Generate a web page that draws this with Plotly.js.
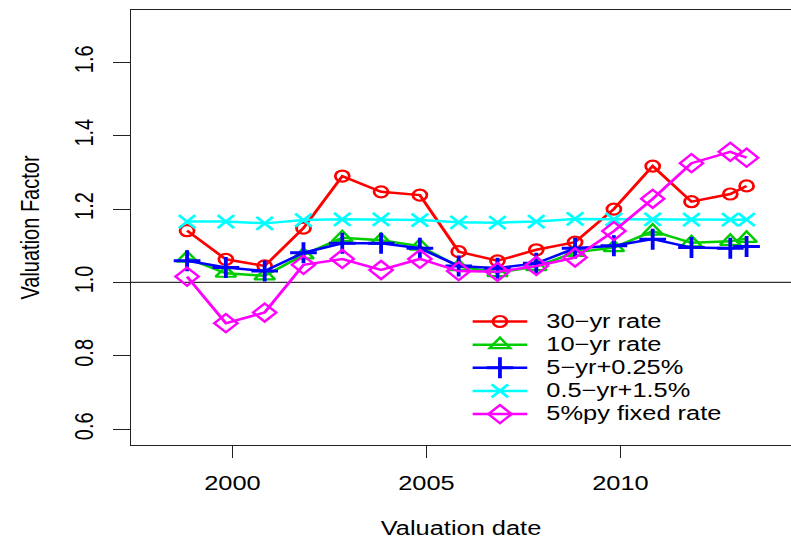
<!DOCTYPE html>
<html>
<head>
<meta charset="utf-8">
<script src="https://cdn.plot.ly/plotly-3.0.1.min.js"></script>
<style>
  html, body { margin: 0; padding: 0; background: #fff; overflow: hidden; }
  #wrap { width: 791px; height: 539px; overflow: hidden; }
  #chart { width: 623px; height: 539px; transform: scaleX(1.27); transform-origin: 0 0; }
</style>
</head>
<body>
<div id="wrap"><div id="chart"></div></div>
<script>
// Valuation dates (decimal years)
const valuationDates = [1998.83, 1999.83, 2000.83, 2001.83, 2002.83, 2003.83, 2004.83, 2005.83,
                        2006.83, 2007.83, 2008.83, 2009.83, 2010.83, 2011.83, 2012.83, 2013.25];

// Valuation factors per discounting basis
const rate30yr   = [1.141, 1.063, 1.045, 1.148, 1.290, 1.247, 1.238, 1.084, 1.059, 1.089, 1.110, 1.200, 1.317, 1.220, 1.241, 1.263];
const rate10yr   = [1.066, 1.025, 1.018, 1.075, 1.122, 1.115, 1.099, 1.043, 1.027, 1.043, 1.082, 1.095, 1.140, 1.108, 1.112, 1.120];
const rate5yr    = [1.059, 1.041, 1.031, 1.081, 1.107, 1.107, 1.093, 1.045, 1.039, 1.052, 1.093, 1.100, 1.118, 1.095, 1.093, 1.098];
const rateHalfYr = [1.166, 1.166, 1.161, 1.170, 1.172, 1.172, 1.170, 1.164, 1.163, 1.166, 1.173, 1.172, 1.172, 1.171, 1.171, 1.171];
const rateFixed  = [1.016, 0.889, 0.918, 1.048, 1.064, 1.034, 1.064, 1.031, 1.029, 1.045, 1.068, 1.140, 1.228, 1.325, 1.356, 1.340];

const seriesNames = ['30\u2212yr rate', '10\u2212yr rate', '5\u2212yr+0.25%', '0.5\u2212yr+1.5%', '5%py fixed rate'];
const xTicks = [2000, 2005, 2010];
const yTicks = [0.6, 0.8, 1.0, 1.2, 1.4, 1.6];
const yTickText = ['0.6', '0.8', '1.0', '1.2', '1.4', '1.6'];

const FONT = '"Liberation Sans", Arial, Helvetica, sans-serif';

// legend labels drawn at 20px while the row pitch follows the (smaller) legend font size
function legendLabel(s) {
  return '<span style="font-size:20px">\u2002' + s + '</span>';
}

function mk(name, y, color, symbol, size, mlw) {
  return {
    type: 'scatter', mode: 'lines+markers', name: legendLabel(name),
    x: valuationDates, y: y,
    line: { color: color, width: 2.5 },
    marker: { symbol: symbol, size: size, color: color, line: { color: color, width: mlw } }
  };
}

const traces = [
  mk(seriesNames[0], rate30yr,   '#FF0000', 'circle-open',      11, 2.2),
  mk(seriesNames[1], rate10yr,   '#00CD00', 'triangle-up-open', 14, 2.2),
  mk(seriesNames[2], rate5yr,    '#0000FF', 'cross-thin-open',  15, 3),
  mk(seriesNames[3], rateHalfYr, '#00FFFF', 'x-thin-open',      13, 2.5),
  mk(seriesNames[4], rateFixed,  '#FF00FF', 'diamond-open',     14, 2.2)
];

const layout = {
  width: 623, height: 539,
  margin: { l: 103, r: 0, t: 10, b: 94 },
  paper_bgcolor: '#fff', plot_bgcolor: '#fff',
  font: { family: FONT, size: 20, color: '#000' },
  showlegend: true,
  legend: {
    x: 0.508, xanchor: 'left', y: 0.322, yanchor: 'top',
    bgcolor: 'rgba(0,0,0,0)', borderwidth: 0,
    font: { family: FONT, size: 15.5, color: '#000' },
    itemwidth: 43, tracegroupgap: 0
  },
  xaxis: {
    range: [1997.38, 2014.40], tickmode: 'array', tickvals: xTicks,
    ticks: 'outside', ticklen: 12, tickwidth: 1, tickcolor: '#222',
    showline: true, linecolor: '#222', linewidth: 1, mirror: true,
    showgrid: false, zeroline: false,
    tickfont: { family: FONT, size: 20, color: '#000' },
    ticklabelstandoff: 8,
    title: { text: 'Valuation date', font: { family: FONT, size: 20, color: '#000' }, standoff: 34 }
  },
  yaxis: {
    range: [0.557, 1.7425], tickmode: 'array', tickvals: yTicks, ticktext: yTickText,
    tickangle: -90,
    ticks: 'outside', ticklen: 13, tickwidth: 1, tickcolor: '#222',
    showline: true, linecolor: '#222', linewidth: 1,
    showgrid: false, zeroline: false,
    tickfont: { family: FONT, size: 20, color: '#000' },
    ticklabelstandoff: 8,
    title: { text: 'Valuation Factor', font: { family: FONT, size: 20, color: '#000' }, standoff: 18 }
  },
  shapes: [{
    type: 'line', xref: 'paper', x0: 0, x1: 1, yref: 'y', y0: 1.0, y1: 1.0,
    line: { color: '#333', width: 1.2 }, layer: 'below'
  }]
};

Plotly.newPlot('chart', traces, layout, { displayModeBar: false, staticPlot: true });
</script>
</body>
</html>
